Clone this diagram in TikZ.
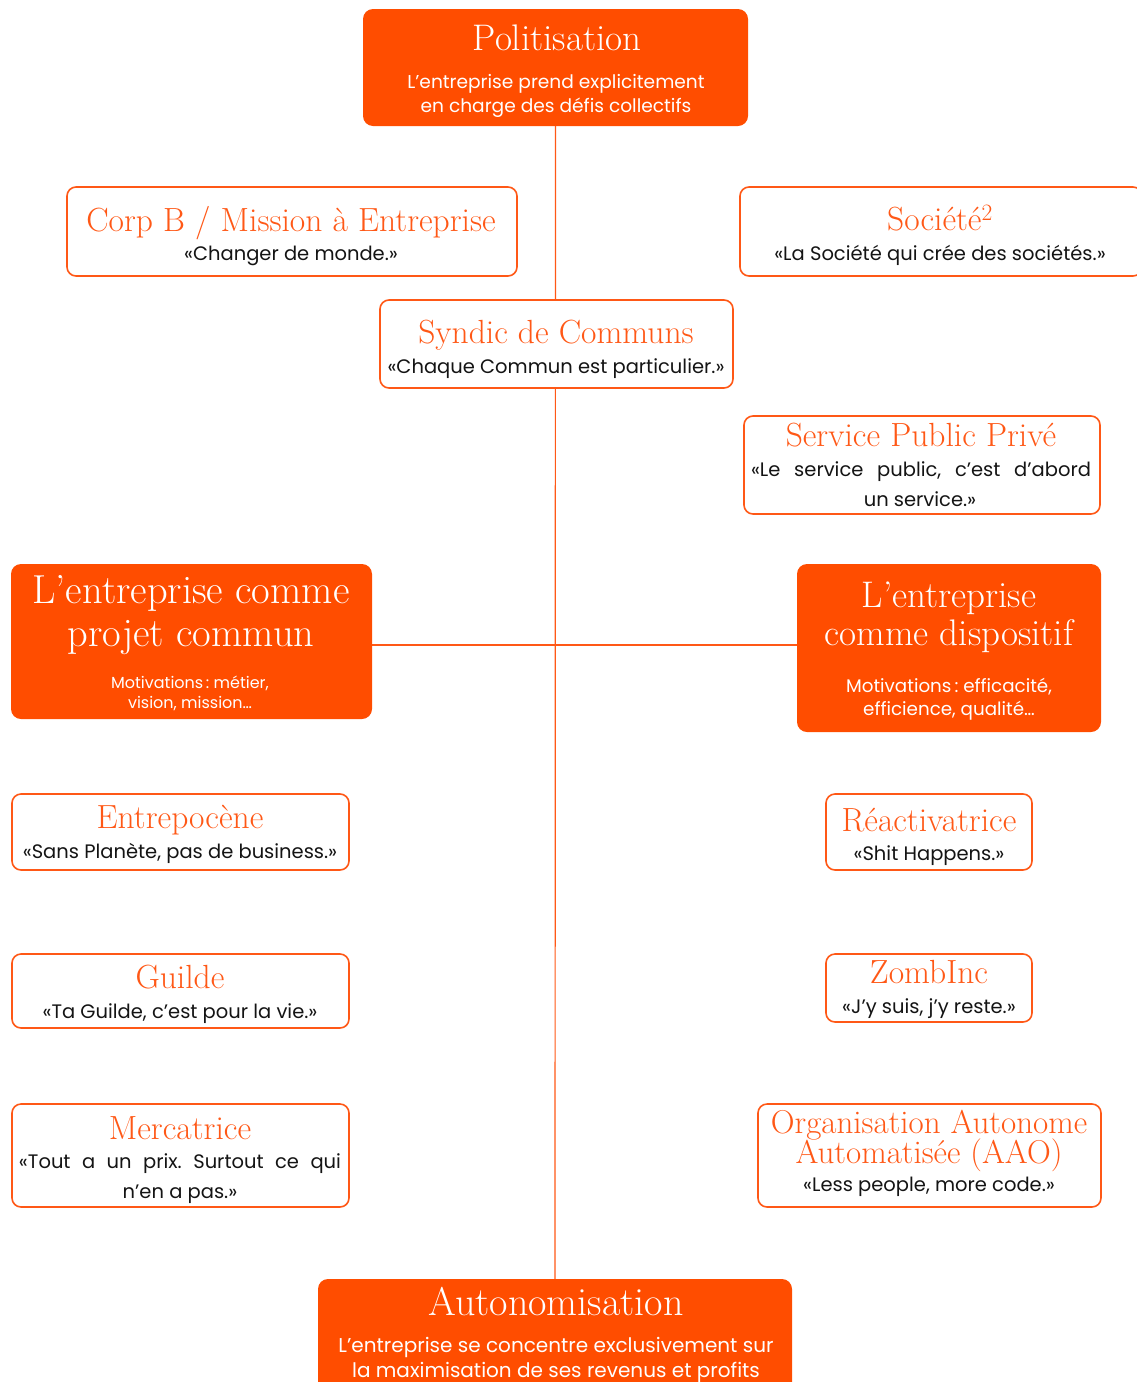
\documentclass[tikz,border=0pt]{standalone}
\usepackage{fontspec}
\newfontfamily\sans{Poppins}
\definecolor{orng}{RGB}{255,77,0}
\definecolor{orngl}{RGB}{255,88,22}
\definecolor{ink}{RGB}{20,20,20}
\pgfdeclarelayer{bg}
\pgfsetlayers{bg,main}
\frenchspacing
\newcommand\mybox[6]{\node[#2, minimum width={(#5-#3)*1pt}, minimum height={(#6-#4)*1pt}] (#1) at ({(#3+#5)/2},{(#4+#6)/2}) {};}
\begin{document}
\begin{tikzpicture}[x=1pt,y=-1pt,
  filled/.style={fill=orng, draw=none, rounded corners=10pt, inner sep=0pt, outer sep=0pt},
  outl/.style={fill=white, draw=orngl, line width=1.6pt, rounded corners=9pt, inner sep=0pt, outer sep=0pt},
  ttl/.style={anchor=base, inner sep=0pt, text=orngl, font=\fontsize{33.5}{33.5}\selectfont},
  wttl/.style={anchor=base, inner sep=0pt, text=white},
  qt/.style={anchor=base, inner sep=0pt, text=ink, font=\sans\fontsize{19.5}{19.5}\selectfont},
  wqt/.style={anchor=base, inner sep=0pt, text=white, font=\sans\fontsize{18.6}{18.6}\selectfont},
  conn/.style={draw=orngl, line width=1.2pt}]
\useasboundingbox (0,0) rectangle (1136,1382);
% boxes
\mybox{pol}{filled}{363}{9}{748}{126}
\mybox{corp}{outl}{67}{187}{517}{276}
\mybox{soc}{outl}{740}{187}{1142}{276}
\mybox{syn}{outl}{380}{300}{733}{388}
\mybox{spp}{outl}{744}{416}{1100}{514}
\mybox{proj}{filled}{11}{564}{372}{719}
\mybox{disp}{filled}{797}{564}{1101}{732}
\mybox{entr}{outl}{12}{794}{349}{870}
\mybox{reac}{outl}{826}{794}{1032}{870}
\mybox{guil}{outl}{12}{954}{349}{1028}
\mybox{zomb}{outl}{826}{954}{1032}{1022}
\mybox{merc}{outl}{12}{1104}{349}{1207}
\mybox{aao}{outl}{758}{1104}{1101}{1207}
\mybox{auto}{filled}{318}{1279}{792}{1400}
% connectors
\begin{pgfonlayer}{bg}
\draw[conn] (pol.south) -- (auto.north);
\draw[conn] (proj.east |- 0,645) -- (disp.west |- 0,645);
\end{pgfonlayer}
% texts
\node[wttl, font=\fontsize{37}{37}\selectfont] (polT) at (557,50) {Politisation};
\node[wqt] (polS1) at (556,88) {L’entreprise prend explicitement};
\node[wqt] (polS2) at (556,112) {en charge des défis collectifs};

\node[ttl] (corpT) at (291,231) {Corp B / Mission à Entreprise};
\node[qt] (corpQ) at (291,260) {«Changer de monde.»};

\node[ttl] (socT) at (940,230) {Société\textsuperscript{2}};
\node[qt] (socQ) at (940,260) {«La Société qui crée des sociétés.»};

\node[ttl] (synT) at (556,343) {Syndic de Communs};
\node[qt] (synQ) at (556,373) {«Chaque Commun est particulier.»};

\node[ttl] (sppT) at (921,446) {Service Public Privé};
\node[qt] (sppQ1) at (921,476) {\makebox[340pt][s]{«Le service public, c’est d’abord}};
\node[qt] (sppQ2) at (920,506) {un service.»};

\node[wttl, font=\fontsize{40.5}{40.5}\selectfont] (projT1) at (191,603) {L’entreprise comme};
\node[wttl, font=\fontsize{40.5}{40.5}\selectfont] (projT2) at (191,646) {projet commun};
\node[wqt, font=\sans\fontsize{16}{16}\selectfont] (projM1) at (190,688) {Motivations\,: métier,};
\node[wqt, font=\sans\fontsize{16}{16}\selectfont] (projM2) at (190,708) {vision, mission…};

\node[wttl, font=\fontsize{37}{37}\selectfont] (dispT1) at (949,607) {L’entreprise};
\node[wttl, font=\fontsize{37}{37}\selectfont] (dispT2) at (949,645) {comme dispositif};
\node[wqt, font=\sans\fontsize{18.3}{18.3}\selectfont] (dispM1) at (949,692) {Motivations\,: efficacité,};
\node[wqt, font=\sans\fontsize{18.3}{18.3}\selectfont] (dispM2) at (949,715) {efficience, qualité…};

\node[ttl] (entrT) at (180,828) {Entrepocène};
\node[qt] (entrQ) at (180,858) {«Sans Planète, pas de business.»};

\node[ttl] (reacT) at (929,831) {Réactivatrice};
\node[qt] (reacQ) at (929,860) {«Shit Happens.»};

\node[ttl] (guilT) at (180,988) {Guilde};
\node[qt] (guilQ) at (180,1018) {«Ta Guilde, c’est pour la vie.»};

\node[ttl] (zombT) at (929,983) {ZombInc};
\node[qt] (zombQ) at (929,1013) {«J’y suis, j’y reste.»};

\node[ttl] (mercT) at (180,1139) {Mercatrice};
\node[qt] (mercQ1) at (180,1168) {\makebox[322pt][s]{«Tout a un prix. Surtout ce qui}};
\node[qt] (mercQ2) at (180,1198) {n’en a pas.»};

\node[ttl, font=\fontsize{33}{33}\selectfont] (aaoT1) at (929,1133) {Organisation Autonome};
\node[ttl, font=\fontsize{33}{33}\selectfont] (aaoT2) at (929,1163) {Automatisée (AAO)};
\node[qt] (aaoQ) at (929,1191) {«Less people, more code.»};

\node[wttl, font=\fontsize{40}{40}\selectfont] (autoT) at (556,1315) {Autonomisation};
\node[wqt, font=\sans\fontsize{20}{20}\selectfont] (autoS1) at (556,1352) {L’entreprise se concentre exclusivement sur};
\node[wqt, font=\sans\fontsize{20}{20}\selectfont] (autoS2) at (556,1377) {la maximisation de ses revenus et profits};
\end{tikzpicture}
\end{document}
